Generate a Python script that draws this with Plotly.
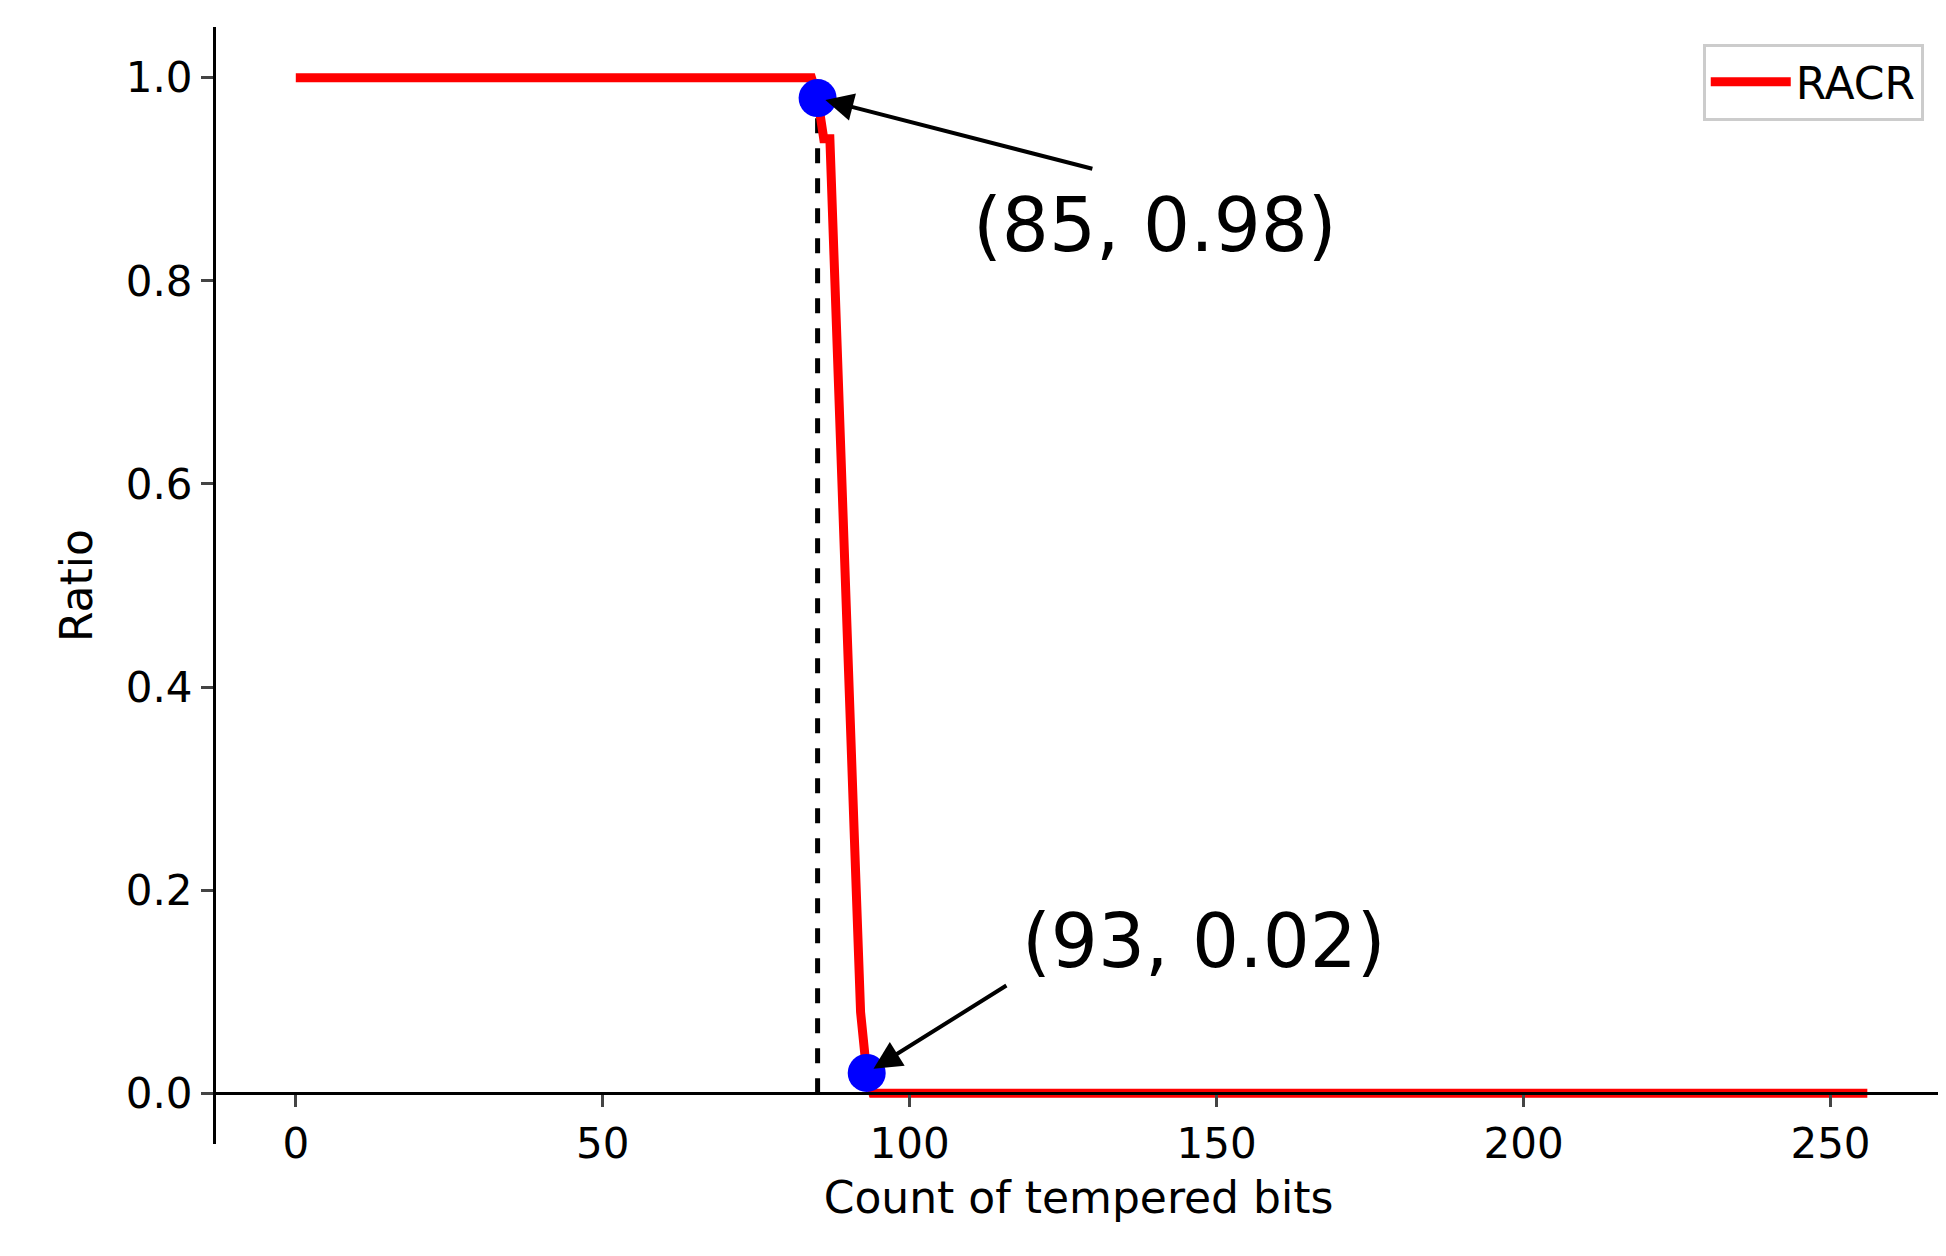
import plotly.graph_objects as go

x = [0, 84, 85, 86, 87, 88, 89, 90, 91, 92, 93, 94, 256]
y = [1.0, 1.0, 0.98, 0.94, 0.94, 0.78, 0.62, 0.45, 0.25, 0.08, 0.02, 0.0, 0.0]
mark_x = [85, 93]
mark_y = [0.98, 0.02]
labels = ["(85, 0.98)", "(93, 0.02)"]

fig = go.Figure()
fig.add_trace(go.Scatter(x=[85, 85], y=[0, 0.98], mode="lines",
                         line=dict(color="black", width=5, dash="dash"), showlegend=False))
fig.add_trace(go.Scatter(x=x, y=y, mode="lines", name="RACR",
                         line=dict(color="red", width=9)))
fig.add_trace(go.Scatter(x=mark_x, y=mark_y, mode="markers", showlegend=False,
                         marker=dict(color="blue", size=38)))

tails = [(130, 0.91), (116, 0.107)]
for mx, my, (tx, ty) in zip(mark_x, mark_y, tails):
    fig.add_annotation(x=mx, y=my, ax=tx, ay=ty, axref="x", ayref="y",
                       text="", showarrow=True, arrowhead=2, arrowsize=1.4,
                       arrowwidth=4, arrowcolor="black", standoff=8)
fig.add_annotation(x=110, y=0.855, text=labels[0], showarrow=False, xanchor="left",
                   font=dict(size=74))
fig.add_annotation(x=118, y=0.15, text=labels[1], showarrow=False, xanchor="left",
                   font=dict(size=74))

fig.update_layout(
    width=1946, height=1256, plot_bgcolor="white", paper_bgcolor="white",
    margin=dict(l=208, r=13, t=19, b=120),
    font=dict(family="DejaVu Sans", size=42, color="black"),
    legend=dict(x=0.99, y=0.985, xanchor="right", yanchor="top", itemwidth=80,
                bordercolor="#cccccc", borderwidth=3, font=dict(size=44)),
    xaxis=dict(range=[-13, 268], tickvals=[0, 50, 100, 150, 200, 250],
               showline=True, linecolor="black", linewidth=3, ticks="outside",
               ticklen=12, tickwidth=3, showgrid=False, zeroline=False,
               anchor="free", position=0.05 / 1.1,
               title=dict(text="Count of tempered bits", font=dict(size=44))),
    yaxis=dict(range=[-0.05, 1.05], tickvals=[0, 0.2, 0.4, 0.6, 0.8, 1.0],
               tickformat=".1f", showline=True, linecolor="black", linewidth=3,
               ticks="outside", ticklen=12, tickwidth=3, showgrid=False,
               zeroline=False, title=dict(text="Ratio", font=dict(size=44), standoff=20)),
)
fig.write_html("out.html")
